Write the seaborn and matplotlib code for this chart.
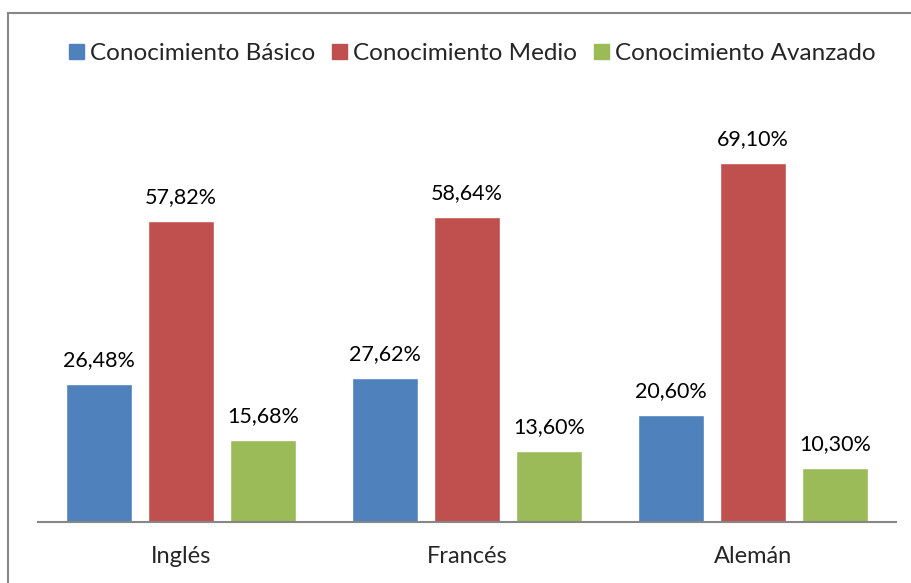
import matplotlib.pyplot as plt
import matplotlib.patches as mpatches
import seaborn as sns
import pandas as pd

# Data
idiomas = ["Inglés", "Francés", "Alemán"]
niveles = ["Conocimiento Básico", "Conocimiento Medio", "Conocimiento Avanzado"]
basico = [26.48, 27.62, 20.60]
medio = [57.82, 58.64, 69.10]
avanzado = [15.68, 13.60, 10.30]
colores = ["#4F81BD", "#C0504D", "#9BBB59"]

df = pd.DataFrame({
    "idioma": idiomas * 3,
    "nivel": [niveles[0]] * 3 + [niveles[1]] * 3 + [niveles[2]] * 3,
    "valor": basico + medio + avanzado,
})

sns.set_style("white")
plt.rcParams["font.family"] = ["Lato", "DejaVu Sans"]

fig = plt.figure(figsize=(9.12, 5.83), dpi=100)
ax = fig.add_axes([38 / 912, 61 / 583, 858 / 912, 416 / 583])

sns.barplot(
    data=df, x="idioma", y="valor", hue="nivel", order=idiomas, hue_order=niveles,
    palette=colores, width=0.86, gap=0.2, saturation=1, ax=ax, legend=False,
)

for cont in ax.containers:
    ax.bar_label(cont, labels=[f"{v:.2f}%".replace(".", ",") for v in cont.datavalues],
                 padding=10, fontsize=15.5, color="black")

ax.set_ylim(0, 80)
ax.set_xlim(-0.5, 2.5)
ax.set_xlabel("")
ax.set_ylabel("")
ax.set_yticks([])
ax.tick_params(axis="x", length=0, pad=17, labelsize=17)
for s in ["top", "right", "left"]:
    ax.spines[s].set_visible(False)
ax.spines["bottom"].set_color("#868686")
ax.spines["bottom"].set_linewidth(1.5)

handles = [mpatches.Patch(color=c, label=n) for c, n in zip(colores, niveles)]
fig.legend(handles=handles, loc="center", bbox_to_anchor=(0.518, 0.908), ncol=3,
           frameon=False, fontsize=17.5, handlelength=0.6, handleheight=0.6,
           handletextpad=0.25, columnspacing=0.7)

# outer chart border (left and top edges visible)
fig.patches.append(mpatches.Rectangle((8 / 912, -0.1), 1.2, (583 - 13) / 583 + 0.1,
                                      transform=fig.transFigure, fill=False,
                                      edgecolor="#868686", linewidth=1.5))

fig.savefig("out.png", dpi=100)
